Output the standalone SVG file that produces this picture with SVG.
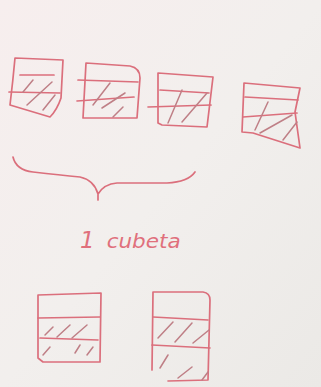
<svg xmlns="http://www.w3.org/2000/svg" width="321" height="387" viewBox="0 0 321 387">
<defs>
<linearGradient id="bg" x1="0" y1="0" x2="1" y2="1">
<stop offset="0" stop-color="#f7eeee"/>
<stop offset="0.5" stop-color="#f2efed"/>
<stop offset="1" stop-color="#ebe9e6"/>
</linearGradient>
<style>
.ink{fill:none;stroke:#db6f7c;stroke-width:1.7;stroke-linecap:round;stroke-linejoin:round}
.hatch{fill:none;stroke:#bf7f86;stroke-width:1.5;stroke-linecap:round}
.lbl{font-family:"DejaVu Sans","Liberation Sans",sans-serif;font-style:italic;fill:#e0707c}
</style>
</defs>
<rect x="0" y="0" width="321" height="387" fill="url(#bg)"/>

<g id="box1">
<path class="ink" d="M15 58 L63 60 Q62 80 61 98 Q57 110 50 117 L10 105 Q13 80 15 58 Z"/>
<path class="ink" d="M20 75 L54 75"/>
<path class="ink" d="M9 92 L60 93"/>
<path class="hatch" d="M23 92 L33 80 M27 105 L52 82 M43 110 L55 95"/>
</g>

<g id="box2">
<path class="ink" d="M86 63 L130 66 Q140 68 140 78 L137 118 L83 118 Z"/>
<path class="ink" d="M78 80 L138 82"/>
<path class="ink" d="M77 101 L134 97"/>
<path class="hatch" d="M93 105 L110 83 M102 108 L125 93 M113 117 L123 107"/>
</g>

<g id="box3">
<path class="ink" d="M158 73 L213 77 L207 127 L162 125 L158 123 Z"/>
<path class="ink" d="M160 90 L209 93"/>
<path class="ink" d="M148 107 L211 105"/>
<path class="hatch" d="M168 123 L182 90 M182 122 L207 93"/>
</g>

<g id="box4">
<path class="ink" d="M244 83 L300 88 L295 112 L300 148 L253 133 L242 132 Z"/>
<path class="ink" d="M245 97 L298 100"/>
<path class="ink" d="M243 117 L297 113"/>
<path class="hatch" d="M255 130 L268 102 M260 133 L292 115 M283 140 L297 122"/>
</g>

<g id="brace">
<path class="ink" d="M13 157 Q16 170 33 172 Q60 175 80 177 Q94 180 98 194 L98 200 M98 194 Q104 184 117 183 L167 183 Q188 182 195 172"/>
</g>

<g id="label">
<text class="lbl" x="80" y="248"><tspan font-size="23">1</tspan><tspan font-size="19" dx="12" textLength="74" lengthAdjust="spacingAndGlyphs">cubeta</tspan></text>
</g>

<g id="bucketA">
<path class="ink" d="M38 295 L101 293 L100 362 L43 362 L38 358 Z"/>
<path class="ink" d="M38 318 L100 317"/>
<path class="ink" d="M40 338 L98 340"/>
<path class="hatch" d="M45 335 L53 327 M57 337 L70 325 M72 338 L87 325 M43 355 L50 347 M75 353 L80 345 M87 355 L93 347"/>
</g>

<g id="bucketB">
<path class="ink" d="M153 292 L203 292 Q210 293 210 300 L208 380 L168 381 M153 292 L152 370"/>
<path class="ink" d="M153 317 L208 320"/>
<path class="ink" d="M152 345 L210 348"/>
<path class="hatch" d="M158 338 L173 322 M175 342 L192 323 M193 343 L209 330 M160 368 L168 355 M178 378 L192 367 M202 380 L208 372"/>
</g>
</svg>
